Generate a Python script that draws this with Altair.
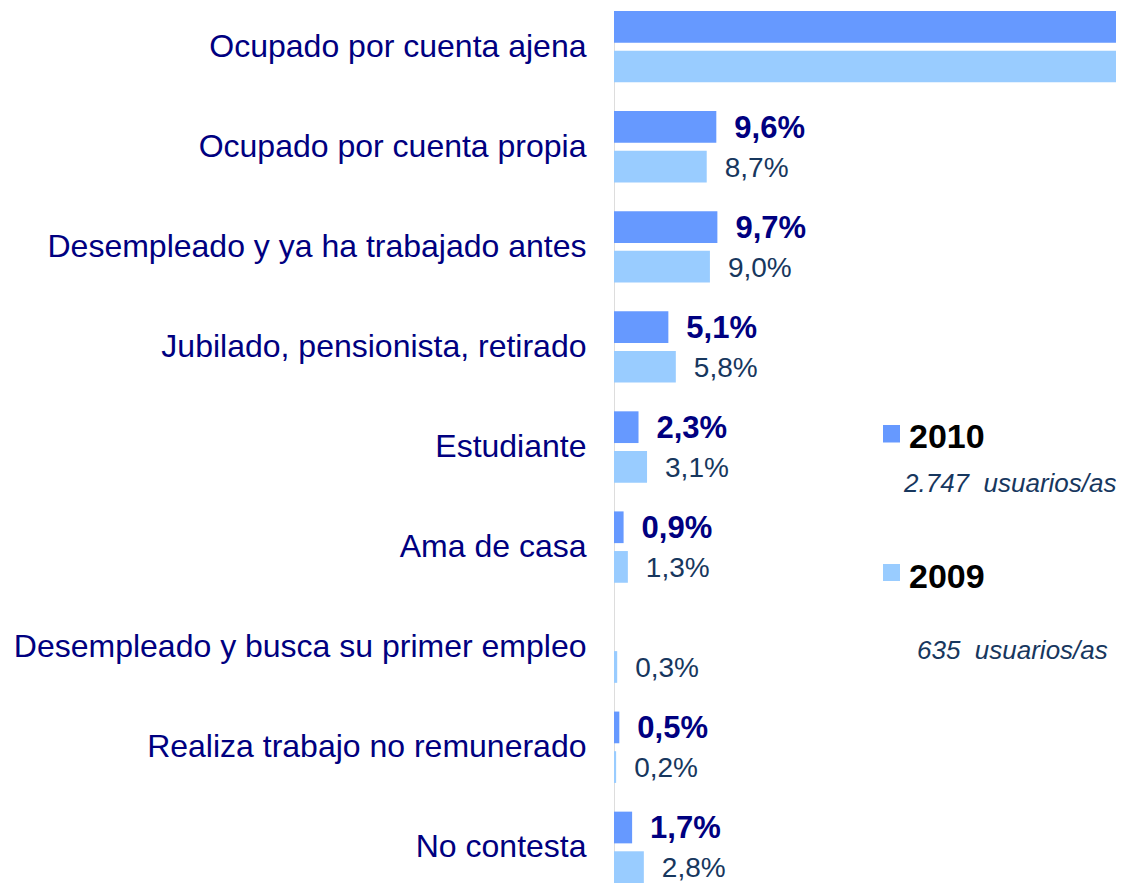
import altair as alt
import pandas as pd

categories = [
    "Ocupado por cuenta ajena",
    "Ocupado por cuenta propia",
    "Desempleado y ya ha trabajado antes",
    "Jubilado, pensionista, retirado",
    "Estudiante",
    "Ama de casa",
    "Desempleado y busca su primer empleo",
    "Realiza trabajo no remunerado",
    "No contesta",
]
v2010 = [70.2, 9.6, 9.7, 5.1, 2.3, 0.9, 0.0, 0.5, 1.7]
v2009 = [68.8, 8.7, 9.0, 5.8, 3.1, 1.3, 0.3, 0.2, 2.8]
years = ["2010", "2009"]
users = ["2.747\u00a0 usuarios/as", "635\u00a0 usuarios/as"]

X_MAX = 47.1  # visible part of the value axis (longest bars run off the edge)


def fmt(v):
    return "" if v == 0 else f"{v:.1f}".replace(".", ",") + "%"


rows = []
for c, a, b in zip(categories, v2010, v2009):
    rows.append({"cat": c, "year": "2010", "value": a, "label": fmt(a)})
    rows.append({"cat": c, "year": "2009", "value": b, "label": fmt(b)})
df = pd.DataFrame(rows)

C2010 = "#6699FF"
C2009 = "#99CCFF"
NAVY = "#000080"
DARK = "#17375E"
FONT = "Liberation Sans"

y_enc = alt.Y(
    "cat:N",
    sort=categories,
    scale=alt.Scale(domain=categories, paddingInner=0.287, paddingOuter=0),
    axis=alt.Axis(
        title=None,
        domain=False,
        ticks=False,
        tickSize=0,
        grid=False,
        labelPadding=28,
        labelFontSize=32,
        labelColor=NAVY,
        labelFont=FONT,
        labelLimit=0,
    ),
)
yoff = alt.YOffset(
    "year:N", sort=years, scale=alt.Scale(domain=years, paddingInner=0.2, paddingOuter=0)
)
x_enc = alt.X(
    "value:Q", scale=alt.Scale(domain=[0, X_MAX], nice=False), axis=None
)

bars = alt.Chart(df).mark_bar(clip=True).encode(
    x=x_enc,
    y=y_enc,
    yOffset=yoff,
    color=alt.Color(
        "year:N", scale=alt.Scale(domain=years, range=[C2010, C2009]), legend=None
    ),
)

lab2010 = (
    alt.Chart(df)
    .transform_filter((alt.datum.year == "2010") & (alt.datum.value < X_MAX - 10))
    .mark_text(
        align="left", baseline="middle", dx=18, dy=2, fontSize=31,
        fontWeight="bold", color=NAVY, font=FONT,
    )
    .encode(x=x_enc, y=y_enc, yOffset=yoff, text="label:N")
)
lab2009 = (
    alt.Chart(df)
    .transform_filter((alt.datum.year == "2009") & (alt.datum.value < X_MAX - 10))
    .mark_text(
        align="left", baseline="middle", dx=18, dy=2, fontSize=28,
        color=DARK, font=FONT,
    )
    .encode(x=x_enc, y=y_enc, yOffset=yoff, text="label:N")
)

leg_df = pd.DataFrame({"year": years, "users": users})

sq1 = alt.Chart(leg_df).transform_filter(alt.datum.year == "2010").mark_rect(color=C2010).encode(
    x=alt.value(269), x2=alt.value(286), y=alt.value(414), y2=alt.value(431.5)
)
sq2 = alt.Chart(leg_df).transform_filter(alt.datum.year == "2009").mark_rect(color=C2009).encode(
    x=alt.value(269), x2=alt.value(286), y=alt.value(553), y2=alt.value(570)
)
t1 = alt.Chart(leg_df).transform_filter(alt.datum.year == "2010").mark_text(
    align="left", baseline="alphabetic", fontSize=34, fontWeight="bold", color="black", font=FONT
).encode(x=alt.value(295), y=alt.value(437), text="year:N")
t2 = alt.Chart(leg_df).transform_filter(alt.datum.year == "2009").mark_text(
    align="left", baseline="alphabetic", fontSize=34, fontWeight="bold", color="black", font=FONT
).encode(x=alt.value(295), y=alt.value(577), text="year:N")
u1 = alt.Chart(leg_df).transform_filter(alt.datum.year == "2010").mark_text(
    align="left", baseline="alphabetic", fontSize=26, fontStyle="italic", color=DARK, font=FONT
).encode(x=alt.value(290), y=alt.value(481), text="users:N")
u2 = alt.Chart(leg_df).transform_filter(alt.datum.year == "2009").mark_text(
    align="left", baseline="alphabetic", fontSize=26, fontStyle="italic", color=DARK, font=FONT
).encode(x=alt.value(303), y=alt.value(648), text="users:N")

chart = (
    alt.layer(bars, lab2010, lab2009, sq1, sq2, t1, t2, u1, u2)
    .properties(
        width=502,
        height=872,
        autosize=alt.AutoSizeParams(type="none"),
        padding={"left": 606, "top": 3, "right": 0, "bottom": 0},
    )
    .configure_view(stroke=None, strokeWidth=0)
    .configure_axis(domain=False, grid=False, ticks=False)
    .configure(background="white")
)

chart.save("out.html", embed_options={"renderer": "svg", "actions": False})
